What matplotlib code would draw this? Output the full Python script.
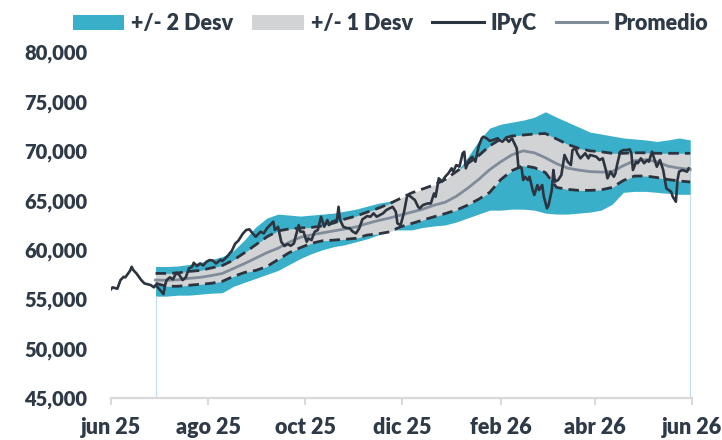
import matplotlib
matplotlib.use("Agg")
import matplotlib.pyplot as plt
from matplotlib.patches import Patch
from matplotlib.lines import Line2D
import pandas as pd

plt.rcParams['font.family'] = ['Lato', 'DejaVu Sans']
plt.rcParams['font.weight'] = 'heavy'

# ---------------- data ----------------
start_date = "2025-06-01"
# IPyC observations: day number since start_date, index level
ipyc_day = [0, 1, 4, 6, 8, 9, 12, 13, 14, 16, 19, 21, 25, 27, 28, 30, 33, 34, 35, 37,
            39, 41, 43, 45, 47, 49, 51, 52, 54, 56, 58, 60, 62, 64, 66, 69, 70, 73, 76, 78,
            80, 83, 85, 87, 89, 91, 94, 96, 98, 100, 102, 103, 105, 107, 109, 111, 113, 115, 116, 118,
            119, 121, 123, 124, 126, 128, 130, 132, 134, 136, 137, 139, 142, 143, 144, 146, 148, 150, 152, 154,
            156, 158, 161, 163, 165, 167, 169, 171, 173, 175, 177, 179, 180, 182, 184, 186, 187, 189, 191, 193,
            194, 196, 199, 201, 203, 204, 206, 208, 210, 212, 214, 215, 217, 219, 221, 222, 223, 225, 227, 229,
            231, 233, 234, 236, 238, 240, 243, 244, 246, 248, 250, 252, 253, 255, 256, 258, 259, 260, 262, 263,
            265, 266, 268, 269, 271, 272, 274, 275, 277, 278, 279, 281, 283, 285, 287, 289, 290, 292, 293, 295,
            297, 298, 300, 301, 303, 305, 307, 309, 311, 312, 314, 316, 317, 318, 320, 322, 324, 326, 327, 328,
            330, 331, 333, 335, 337, 338, 340, 342, 343, 345, 346, 347, 349, 352, 353, 355, 356, 357, 359, 362,
            363]
ipyc_val = [56000, 56190, 56050, 56930, 57260, 57200, 57870, 58270, 57940, 57600, 56930, 56590, 56420, 56190, 56420, 56080, 55510, 56420, 56930, 57200,
            57000, 57670, 57430, 56930, 57200, 58110, 58270, 58680, 58340, 58610, 58400, 58780, 58950, 58900, 58600, 59000, 58850, 59300, 59900, 60600,
            60900, 61650, 61990, 62060, 61650, 61310, 61820, 61650, 62160, 62490, 62830, 61990, 62320, 60800, 60370, 60570, 60400, 60640, 61310, 62490,
            61820, 61820, 60800, 61140, 60970, 61820, 61990, 63330, 62320, 63000, 62490, 62830, 63000, 64340, 63000, 62320, 62200, 62160, 61820, 61650,
            62160, 63070, 63400, 63330, 63680, 63330, 63500, 63680, 64010, 64180, 64340, 63840, 62660, 62490, 63680, 65360, 65530, 65280, 65020, 64340,
            64180, 64510, 64680, 64680, 65690, 65360, 67220, 66880, 67380, 67720, 68230, 67890, 68560, 68400, 69750, 69910, 68230, 69070, 69400, 68900,
            70420, 71270, 71430, 71270, 71000, 71090, 71270, 71090, 70920, 71270, 70920, 71270, 70920, 70250, 68390, 68300, 67050, 67380, 67050, 67380,
            66030, 65530, 66540, 66030, 66540, 65360, 64180, 64510, 66030, 68060, 66880, 67050, 67550, 69580, 68900, 68560, 70080, 70250, 69750, 69240,
            69580, 69750, 69240, 69580, 69500, 69400, 69070, 69240, 68060, 67220, 67890, 67380, 67720, 68560, 69910, 70080, 70080, 70150, 69750, 68060,
            68900, 68740, 69240, 68740, 69070, 68900, 69910, 68900, 68390, 69070, 68560, 68060, 66200, 65870, 65370, 64850, 67050, 67890, 68060, 67890,
            68230]

# Bands: weekly dates from 2025-06-29
band_start = "2025-06-29"
promedio = [56930, 56900, 56950, 57100, 57200, 57380, 57600, 58100, 58600, 59150,
            59700, 60150, 60750, 61250, 61500, 61700, 61900, 62100, 62300, 62650,
            62950, 63200, 63500, 63800, 64100, 64500, 64800, 65400, 66200, 67100,
            68100, 68900, 69600, 70000, 69800, 69300, 68700, 68250, 68050, 67900,
            67850, 67900, 68500, 69000, 69100, 68900, 68450, 68250, 68100]
up1 = [57600, 57600, 57650, 57800, 57900, 58150, 58400, 58950, 59700, 60500,
       61300, 61900, 62100, 62200, 62250, 62400, 62700, 63100, 63400, 63800,
       64200, 64650, 65200, 65750, 66150, 66550, 67100, 67900, 68700, 69500,
       70500, 71200, 71500, 71600, 71700, 71750, 71200, 70650, 70250, 70000,
       69900, 69750, 69750, 69800, 69800, 69750, 69750, 69750, 69750]
lo1 = [56600, 56300, 56300, 56400, 56500, 56600, 56800, 57300, 57700, 57900,
       58300, 59000, 59700, 60200, 60650, 60900, 60970, 61050, 61150, 61480,
       61600, 61800, 62320, 62650, 63000, 63330, 63650, 64000, 64500, 65100,
       65800, 67100, 68000, 68500, 68300, 67800, 66300, 66100, 66000, 66000,
       66050, 66300, 67000, 67450, 67450, 67300, 67100, 66950, 66850]
up2 = [58300, 58300, 58350, 58500, 58700, 59000, 59300, 59900, 61000, 62300,
       63200, 63600, 63500, 63400, 63500, 63600, 63700, 63900, 64100, 64400,
       64700, 64900, 65200, 65500, 65800, 66300, 66800, 67800, 69300, 71000,
       72300, 72700, 72900, 73100, 73400, 73950, 73400, 72900, 72400, 71900,
       71700, 71500, 71300, 71200, 71100, 70950, 71100, 71300, 71100]
lo2 = [55300, 55300, 55400, 55400, 55500, 55600, 55650, 56300, 56700, 57100,
       57500, 57900, 58500, 59100, 59600, 60000, 60300, 60500, 60800, 61100,
       61500, 62000, 62000, 62000, 62250, 62400, 62500, 62800, 63200, 63600,
       64000, 64000, 64100, 64100, 64000, 63700, 63600, 63600, 63700, 63800,
       64000, 64600, 65800, 65900, 65900, 65800, 65700, 65600, 65600]

tick_dates = ["2025-06-01", "2025-08-01", "2025-10-01", "2025-12-01",
              "2026-02-01", "2026-04-01", "2026-06-01"]
tick_labels = ["jun 25", "ago 25", "oct 25", "dic 25", "feb 26", "abr 26", "jun 26"]
y_ticks = [45000, 50000, 55000, 60000, 65000, 70000, 75000, 80000]

# ---------------- styling ----------------
C_CYAN = "#3AAFC9"
C_GRAY = "#D2D3D5"
C_DARK = "#2C3440"
C_AVG = "#808C99"
C_TEXT = "#2F3A48"
C_AXIS = "#D9D9D9"

ipyc_dates = pd.Timestamp(start_date) + pd.to_timedelta(ipyc_day, unit="D")
band_dates = pd.date_range(band_start, periods=len(promedio), freq="7D")

fig = plt.figure(figsize=(7.22, 4.40), dpi=100)
ax = fig.add_axes([0.1537, 0.0955, 0.8045, 0.7864])

ax.fill_between(band_dates, lo2, up2, color=C_CYAN, lw=0, zorder=1)
ax.fill_between(band_dates, lo1, up1, color=C_GRAY, lw=0, zorder=2)
ax.vlines([band_dates[0], band_dates[-1]], 45000, [lo2[0], lo2[-1]],
          color="#BFE0EA", lw=0.9, zorder=1)
ax.plot(band_dates, up1, color=C_DARK, lw=2.0, ls=(0, (3.8, 2.2)), zorder=3)
ax.plot(band_dates, lo1, color=C_DARK, lw=2.0, ls=(0, (3.8, 2.2)), zorder=3)
ax.plot(band_dates, promedio, color=C_AVG, lw=2.0, zorder=4)
ax.plot(ipyc_dates, ipyc_val, color=C_DARK, lw=1.9, zorder=5, solid_joinstyle="round")

ax.set_ylim(45000, 80000)
ax.set_xlim(pd.Timestamp(tick_dates[0]), pd.Timestamp(tick_dates[-1]))
ax.set_yticks(y_ticks)
ax.set_yticklabels([f"{v:,}" for v in y_ticks])
ax.set_xticks(pd.to_datetime(tick_dates))
ax.set_xticklabels(tick_labels)

for s in ["top", "right", "left"]:
    ax.spines[s].set_visible(False)
ax.spines["bottom"].set_color(C_AXIS)
ax.spines["bottom"].set_linewidth(1.6)
ax.tick_params(axis="y", length=0, pad=17, labelsize=14.5, labelcolor=C_TEXT)
ax.tick_params(axis="x", length=5, width=1.4, color=C_AXIS, pad=9,
               labelsize=15.5, labelcolor=C_TEXT)
for lab in ax.get_xticklabels() + ax.get_yticklabels():
    lab.set_fontweight("heavy")

handles = [Patch(facecolor=C_CYAN, edgecolor="none"),
           Patch(facecolor=C_GRAY, edgecolor="none"),
           Line2D([], [], color=C_DARK, lw=2.2),
           Line2D([], [], color=C_AVG, lw=2.2)]
labels = ["+/- 2 Desv", "+/- 1 Desv", "IPyC", "Promedio"]
leg = fig.legend(handles, labels, ncol=4, loc="upper center",
                 bbox_to_anchor=(0.541, 1.015), frameon=False,
                 prop={"weight": "heavy", "size": 15.5},
                 handlelength=2.4, handleheight=0.7, handletextpad=0.3,
                 columnspacing=0.9)
for t in leg.get_texts():
    t.set_color(C_TEXT)

fig.savefig("out.png", dpi=100)
